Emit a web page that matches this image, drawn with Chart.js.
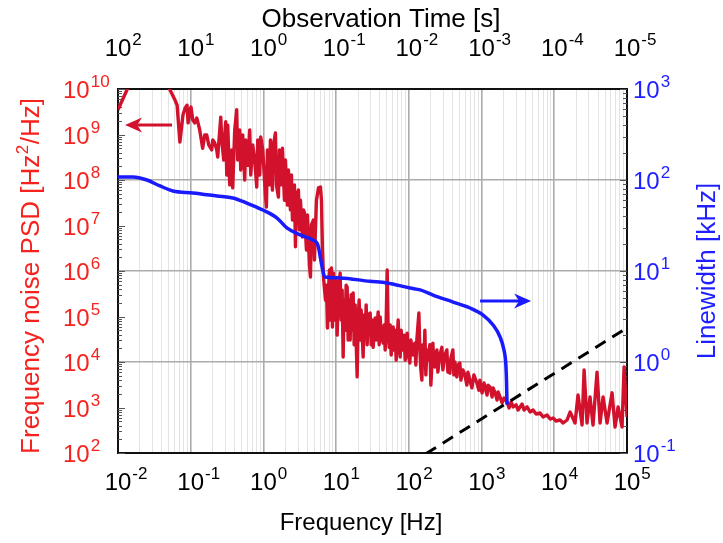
<!DOCTYPE html>
<html>
<head>
<meta charset="utf-8">
<script src="https://cdn.jsdelivr.net/npm/chart.js@4.4.1/dist/chart.umd.min.js"></script>
<style>
html,body{margin:0;padding:0;background:#fff}
</style>
</head>
<body>
<canvas id="c" width="723" height="543"></canvas>
<script>
// frequency noise PSD (Hz^2/Hz) vs Fourier frequency (Hz)
const FREQ = [
  0.01, 0.0145, 0.025, 0.045, 0.052, 0.0608, 0.065, 0.071, 0.0783, 0.0835, 0.089, 0.092, 0.098, 0.101,
  0.1065, 0.1135, 0.121, 0.125, 0.133, 0.146, 0.156, 0.166, 0.177, 0.1945, 0.201, 0.214, 0.228, 0.235,
  0.251, 0.259, 0.267, 0.2845, 0.294, 0.303, 0.313, 0.323, 0.344, 0.367, 0.378, 0.403, 0.429, 0.443,
  0.472, 0.487, 0.519, 0.553, 0.571, 0.608, 0.648, 0.669, 0.713, 0.759, 0.809, 0.835, 0.890, 0.918, 0.978,
  1.065, 1.10, 1.135, 1.209, 1.248, 1.33, 1.373, 1.463, 1.51, 1.608, 1.66, 1.769, 1.826, 1.945, 2.008,
  2.139, 2.208, 2.352, 2.428, 2.506, 2.67, 2.756, 2.845, 3.031, 3.128, 3.229, 3.44, 3.551, 3.665, 3.905,
  4.031, 4.294, 4.432, 4.575, 4.874, 5.031, 5.36, 5.711, 6.084, 6.28, 6.482, 6.691, 7.128, 7.358, 7.594,
  7.839, 8.091, 8.352, 8.62, 8.898, 9.185, 9.48, 9.785,
  10, 10.32, 10.65, 11.0, 11.35, 11.71, 12.09, 12.48, 12.88, 13.3, 13.73, 14.17, 14.63, 15.1, 15.58,
  16.08, 16.6, 17.13, 17.69, 18.26, 19.45, 20.08, 20.72, 21.39, 22.08, 23.52, 24.28, 25.06, 25.87, 26.7,
  27.56, 29.36, 30.31, 31.28, 32.29, 34.4, 35.51, 37.83, 39.05, 40.31, 41.6, 44.32, 45.75, 47.22, 48.74,
  50.31, 51.93, 53.6, 55.33, 57.11, 60.84, 62.8, 64.82, 66.91, 71.28, 73.58, 75.94, 78.39, 80.91, 86.2,
  88.98, 94.8, 97.85,
  103.2, 106.5, 113.5, 120.9, 124.8, 128.8, 137.3, 141.7, 146.3, 151, 155.8, 160.8, 166, 171.3, 176.9,
  182.6, 194.5, 200.8, 213.9, 220.8, 227.9, 242.8, 250.6, 267, 284.5, 293.6, 312.8, 333.3, 344, 366.5,
  378.3, 403.1, 416, 429.4, 457.5, 472.2, 503.1, 519.3, 553.3, 589.4, 628, 648.2, 690.6, 735.8, 783.9,
  862, 918.5, 948,
  1016, 1082, 1117, 1190, 1228, 1309, 1395, 1440, 1534, 1634, 1686, 1797, 1914, 2040, 2243, 2390,
  2546, 2713, 2982, 3178, 3386, 3608, 3844, 4227, 4648, 5111, 5620, 6381, 7017, 7966, 8760, 9632,
  10590, 12010, 13210, 14990, 16500, 19300, 21200, 24100, 25700, 28200, 31000, 34100, 38700, 42600,
  46900, 53200, 62300, 68500, 75400, 85500, 91200, 100000];
const PSD = [
  3.5e9, 1.3e10, 4e10, 1.5e10, 9.5e9, 5.7e9, 4.4e9, 6.8e8, 2.7e9, 3.8e9, 4.4e9, 1.8e9, 3.5e9, 4.0e9,
  2.1e9, 1.8e9, 2.3e9, 1.9e9, 1.26e9, 5.0e8, 9.8e8, 9.8e8, 5.9e8, 4.6e8, 7.6e8, 6.5e8, 4.6e8, 3.2e8,
  1.26e9, 2.4e9, 7.6e8, 2.75e8, 9.8e8, 1.9e9, 1.29e8, 1.6e9, 7.8e7, 4.6e8, 6.7e7, 1.26e9, 3.5e9, 2.75e8,
  1.26e9, 1.66e8, 9.8e8, 1e8, 7.6e8, 2.1e8, 1.26e9, 1.29e8, 5.9e8, 2.75e8, 7.0e7, 7.6e8, 1.29e8, 8.8e8, 4.6e8,
  4.7e7, 2.55e7, 4.6e8, 7.8e7, 7.6e8, 6.0e7, 5.9e8, 1.08e9, 7.8e7, 4.2e7, 4.6e8, 7.8e7, 5.0e8, 3.6e7, 2.75e8,
  2.8e7, 1.66e8, 2.2e7, 1.29e8, 1.32e7, 7.8e7, 3.4e6, 4.7e7, 6.0e7, 8.0e6, 3.6e7, 5.6e6, 2.2e7, 1.9e7, 2.9e6,
  1.7e7, 1.36e6, 7.4e5, 1.03e7, 1.32e7, 1.75e6, 3.6e7, 6.7e7, 7.0e7, 3.6e7, 2.9e6, 7.4e5, 2.3e5, 4.9e5, 5.6e4,
  3.8e5, 1.05e6, 8.4e4, 1.16e6, 5.9e4, 9.0e5, 2.3e5, 8.4e4,
  6.3e5, 3.9e4, 2.3e5, 5.5e5, 9.0e5, 8.4e4, 3.8e5, 1.29e4, 2.3e5, 5.0e4, 4.9e5, 4.4e5, 3.05e4, 2.3e5, 3.05e4,
  3.0e5, 5.0e4, 3.3e5, 2.4e4, 1.8e5, 4.7e3, 8.4e4, 2.3e5, 3.05e4, 1.39e5, 1.29e4, 1.08e5, 3.9e4, 1.8e5, 2.4e4,
  1.08e5, 1.19e5, 2.4e4, 8.4e4, 2.1e4, 9.3e4, 3.05e4, 1.26e5, 2.4e4, 9.8e4, 3.9e4, 2.6e4, 6.5e4, 1.84e4, 7.6e4,
  1.05e6, 5.0e4, 2.1e4, 6.5e4, 1.43e4, 5.9e4, 1.84e4, 5.0e4, 1.1e4, 8.4e4, 2.4e4, 1.29e4, 5.0e4, 1.84e4, 3.9e4,
  1.1e4, 4.3e4, 1.43e4,
  9.5e3, 3.05e4, 1.43e4, 2.6e4, 8.6e3, 3.05e4, 1.19e5, 1.84e4, 6.7e3, 4.0e3, 2.4e4, 8.6e3, 5.0e4, 5.2e3, 1.84e4,
  1.1e4, 2.4e4, 3.1e3, 2.6e4, 8.6e3, 7.8e3, 1.84e4, 6.0e3, 1.43e4, 2.1e4, 6.7e3, 1.43e4, 1.84e4, 6.0e3, 5.7e3,
  1.22e4, 1.84e4, 5.2e3, 1.0e4, 4.7e3, 8.6e3, 9.5e3, 4.0e3, 6.7e3, 5.2e3, 3.1e3, 6.0e3, 4.0e3, 2.7e3, 5.2e3,
  3.45e3, 2.4e3, 4.0e3,
  2.1e3, 3.45e3, 2.8e3, 1.88e3, 3.1e3, 2.8e3, 1.7e3, 2.7e3, 2.1e3, 1.46e3, 2.2e3, 1.7e3, 1.26e3, 1.62e3, 1.32e3, 975,
  1.32e3, 1.03e3, 1.14e3, 880, 1.03e3, 1.19e3, 880, 1.03e3, 796, 880, 720, 757, 618, 684, 558, 588,
  505, 531, 456, 531, 796, 456, 1880, 412, 6700, 456, 1700, 412, 6000, 456,
  1700, 456, 2100, 372, 1030, 372, 7800, 618];

// linewidth (kHz) vs 1/observation time (Hz)
const LW_FREQ = [0.01, 0.0161, 0.025, 0.0378, 0.057, 0.107, 0.23, 0.38, 0.59, 0.98,
  1.54, 2.1, 3.2, 4.8, 5.6, 6.4, 6.8, 7.0, 11.3, 29,
  50, 104, 143, 215, 405, 695, 1050, 1440, 1800, 2030,
  2150, 2200, 2240];
const LW = [108, 108, 100, 86, 75.7, 72, 66.7, 63.4, 55.8, 46.8,
  38.2, 29.7, 24.9, 21.9, 19.3, 11.1, 9.0, 8.6, 8.4, 7.7,
  7.4, 6.5, 6.2, 5.44, 4.56, 3.92, 3.28, 2.55, 1.88, 1.36,
  0.98, 0.63, 0.34];

// beta-separation line
const BETA_FREQ = [100, 100000];
const BETA_PSD = [56.2, 56200];

// tick exponents
const BOTTOM_EXP = [-2, -1, 0, 1, 2, 3, 4, 5];
const TOP_EXP = [2, 1, 0, -1, -2, -3, -4, -5];
const LEFT_EXP = [2, 3, 4, 5, 6, 7, 8, 9, 10];
const RIGHT_EXP = [-1, 0, 1, 2, 3];

// arrows: [x from, x to, y] in data units
const RED_ARROW = [0.0553, 0.0125, 1.62e9];
const BLUE_ARROW = [953, 4800, 4.68];

const RED_LINE = '#d2112c';
const RED_TEXT = '#f5221e';
const BLUE_LINE = '#1a1aff';
const BLUE_TEXT = '#1f1fff';
const FAM = '"Liberation Sans", Arial, sans-serif';
const BASE_FONT = '24px ' + FAM;
const EXP_FONT = '17px ' + FAM;
const TITLE_FONT = '26px ' + FAM;

function logTicks(min, max, minors) {
  const out = [];
  const e0 = Math.floor(Math.log10(min) + 1e-9), e1 = Math.ceil(Math.log10(max) - 1e-9);
  for (let e = e0; e <= e1; e++) {
    const steps = minors ? [1, 2, 3, 4, 5, 6, 7, 8, 9] : [1];
    for (const s of steps) {
      const v = s * Math.pow(10, e);
      if (v >= min * 0.999 && v <= max * 1.001) out.push({value: v, major: s === 1});
    }
  }
  return out;
}

function drawPow(ctx, exp, x, y, align, color) {
  ctx.fillStyle = color;
  ctx.textAlign = 'left';
  ctx.textBaseline = 'alphabetic';
  ctx.font = BASE_FONT;
  const wb = ctx.measureText('10').width;
  let x0 = x;
  if (align === 'center') x0 = x - wb / 2;
  ctx.fillText('10', x0, y);
  ctx.font = EXP_FONT;
  ctx.fillText(String(exp), x0 + wb + 1, y - 11);
}

function arrow(ctx, x1, x2, y, color) {
  const dir = Math.sign(x2 - x1);
  ctx.strokeStyle = color;
  ctx.fillStyle = color;
  ctx.lineWidth = 3;
  ctx.beginPath();
  ctx.moveTo(x1, y);
  ctx.lineTo(x2 - dir * 12, y);
  ctx.stroke();
  ctx.beginPath();
  ctx.moveTo(x2, y);
  ctx.lineTo(x2 - dir * 17, y - 7.5);
  ctx.lineTo(x2 - dir * 12, y);
  ctx.lineTo(x2 - dir * 17, y + 7.5);
  ctx.closePath();
  ctx.fill();
}

const decor = {
  id: 'decor',
  beforeDatasetsDraw(chart) {
    const {ctx, chartArea: a, scales} = chart;
    ctx.save();
    ctx.strokeStyle = '#555';
    ctx.lineWidth = 1;
    for (const t of logTicks(1e2, 1e10, true)) {
      const y = Math.round(scales.y.getPixelForValue(t.value)) + 0.5;
      ctx.beginPath();
      ctx.moveTo(a.left, y);
      ctx.lineTo(a.left + (t.major ? 7 : 4), y);
      ctx.stroke();
    }
    for (const t of logTicks(0.1, 1000, true)) {
      const y = Math.round(scales.y2.getPixelForValue(t.value)) + 0.5;
      ctx.beginPath();
      ctx.moveTo(a.right, y);
      ctx.lineTo(a.right - (t.major ? 7 : 4), y);
      ctx.stroke();
    }
    ctx.restore();
  },
  afterDatasetsDraw(chart) {
    const {ctx, scales} = chart;
    ctx.save();
    arrow(ctx, scales.x.getPixelForValue(RED_ARROW[0]), scales.x.getPixelForValue(RED_ARROW[1]),
      scales.y.getPixelForValue(RED_ARROW[2]), RED_LINE);
    arrow(ctx, scales.x.getPixelForValue(BLUE_ARROW[0]), scales.x.getPixelForValue(BLUE_ARROW[1]),
      scales.y2.getPixelForValue(BLUE_ARROW[2]), BLUE_LINE);
    ctx.restore();
  },
  afterDraw(chart) {
    const {ctx, chartArea: a, scales} = chart;
    ctx.save();
    for (const e of BOTTOM_EXP) drawPow(ctx, e, scales.x.getPixelForValue(Math.pow(10, e)), a.bottom + 37, 'center', '#000');
    for (const e of TOP_EXP) drawPow(ctx, e, scales.x2.getPixelForValue(Math.pow(10, e)), a.top - 33, 'center', '#000');
    for (const e of LEFT_EXP) drawPow(ctx, e, 63, scales.y.getPixelForValue(Math.pow(10, e)) + 9, 'left', RED_TEXT);
    for (const e of RIGHT_EXP) drawPow(ctx, e, a.right + 6, scales.y2.getPixelForValue(Math.pow(10, e)) + 9, 'left', BLUE_TEXT);

    ctx.textBaseline = 'alphabetic';
    ctx.textAlign = 'center';
    ctx.fillStyle = '#000';
    ctx.font = TITLE_FONT;
    ctx.fillText('Observation Time [s]', 381, 27);
    ctx.font = '24px ' + FAM;
    ctx.fillText('Frequency [Hz]', 361, 530);
    ctx.font = TITLE_FONT;

    // right title
    ctx.save();
    ctx.translate(715, 271);
    ctx.rotate(-Math.PI / 2);
    ctx.fillStyle = BLUE_TEXT;
    ctx.fillText('Linewidth [kHz]', 0, 0);
    ctx.restore();

    // left title with superscript
    ctx.save();
    ctx.translate(39, 276);
    ctx.rotate(-Math.PI / 2);
    ctx.fillStyle = RED_TEXT;
    ctx.textAlign = 'left';
    const p1 = 'Frequency noise PSD [Hz', p2 = '2', p3 = '/Hz]';
    ctx.font = TITLE_FONT;
    const w1 = ctx.measureText(p1).width, w3 = ctx.measureText(p3).width;
    ctx.font = EXP_FONT;
    const w2 = ctx.measureText(p2).width;
    const x0 = -(w1 + w2 + w3 + 1) / 2;
    ctx.font = TITLE_FONT;
    ctx.fillText(p1, x0, 0);
    ctx.font = EXP_FONT;
    ctx.fillText(p2, x0 + w1 + 0.5, -11);
    ctx.font = TITLE_FONT;
    ctx.fillText(p3, x0 + w1 + w2 + 1, 0);
    ctx.restore();

    ctx.restore();
  }
};

const ctx = document.getElementById('c').getContext('2d');
new Chart(ctx, {
  type: 'line',
  data: {
    datasets: [
      {
        label: 'PSD',
        data: FREQ.map((f, i) => ({x: f, y: PSD[i]})),
        xAxisID: 'x', yAxisID: 'y',
        borderColor: RED_LINE, borderWidth: 3.4, pointRadius: 0, tension: 0,
        borderJoinStyle: 'round', clip: 0, order: 2
      },
      {
        label: 'Linewidth',
        data: LW_FREQ.map((f, i) => ({x: f, y: LW[i]})),
        xAxisID: 'x', yAxisID: 'y2',
        borderColor: BLUE_LINE, borderWidth: 3.5, pointRadius: 0,
        cubicInterpolationMode: 'monotone', clip: 0, order: 1
      },
      {
        label: 'beta',
        data: BETA_FREQ.map((f, i) => ({x: f, y: BETA_PSD[i]})),
        xAxisID: 'x', yAxisID: 'y',
        borderColor: '#000', borderWidth: 3, borderDash: [12, 8], pointRadius: 0, clip: 0, order: 0
      }
    ]
  },
  options: {
    responsive: false,
    animation: false,
    devicePixelRatio: 1,
    layout: {padding: {left: 118, right: 96, top: 89, bottom: 90}},
    plugins: {legend: {display: false}, tooltip: {enabled: false}},
    scales: {
      x: {
        type: 'logarithmic', position: 'bottom', min: 1e-2, max: 1e5,
        afterBuildTicks: s => { s.ticks = logTicks(1e-2, 1e5, true); },
        ticks: {display: false},
        grid: {
          drawTicks: false,
          color: c => (c.tick && c.tick.major) ? '#ababab' : '#e4e4e4',
          lineWidth: c => (c.tick && c.tick.major) ? 1.6 : 1
        },
        border: {color: '#111', width: 2}
      },
      x2: {
        type: 'logarithmic', position: 'top', min: 1e-5, max: 1e2, reverse: true,
        ticks: {display: false},
        grid: {display: false, drawTicks: false},
        border: {color: '#111', width: 2}
      },
      y: {
        type: 'logarithmic', position: 'left', min: 1e2, max: 1e10,
        ticks: {display: false},
        grid: {display: false, drawTicks: false},
        border: {color: '#111', width: 2}
      },
      y2: {
        type: 'logarithmic', position: 'right', min: 0.1, max: 1000,
        afterBuildTicks: s => { s.ticks = logTicks(0.1, 1000, false); },
        ticks: {display: false},
        grid: {drawTicks: false, color: '#ababab', lineWidth: 1.6},
        border: {color: '#111', width: 2}
      }
    }
  },
  plugins: [decor]
});
</script>
</body>
</html>
